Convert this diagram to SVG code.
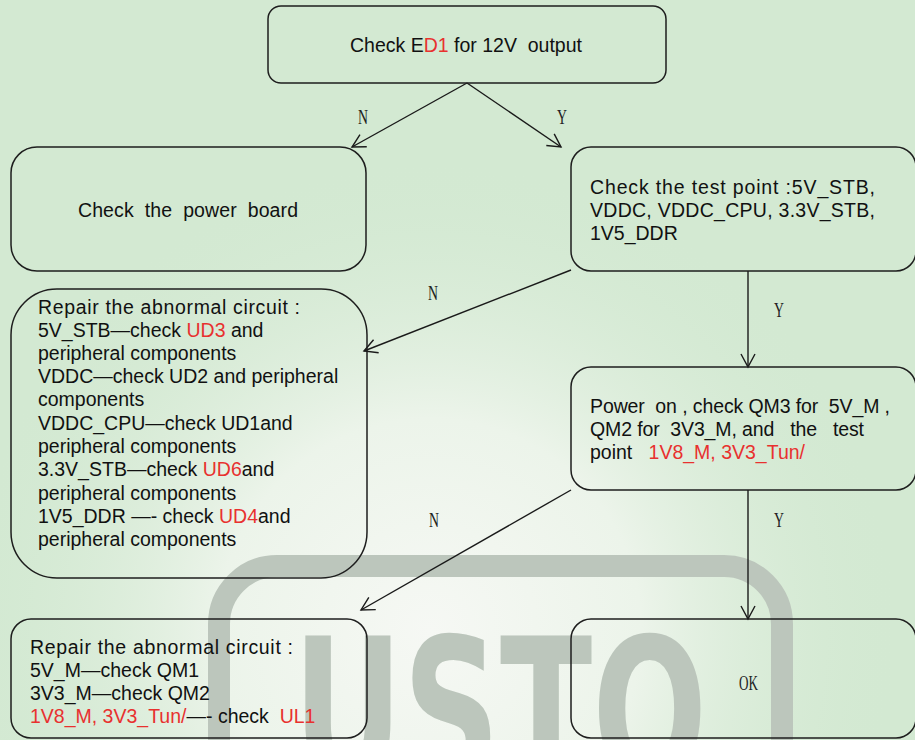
<svg xmlns="http://www.w3.org/2000/svg" width="915" height="740" viewBox="0 0 915 740">
<defs>
<radialGradient id="bgspot" cx="430" cy="630" r="470" gradientUnits="userSpaceOnUse">
<stop offset="0" stop-color="#f6f8f4"/>
<stop offset="0.45" stop-color="#ecf4ea"/>
<stop offset="1" stop-color="#d3e9d2" stop-opacity="0"/>
</radialGradient>
<marker id="arr" markerWidth="16" markerHeight="16" refX="14" refY="8" orient="auto" markerUnits="userSpaceOnUse">
<path d="M1,1 L14,8 L1,15" fill="none" stroke="#1a1a1a" stroke-width="1.4"/>
</marker>
<style>
.box{fill:none;stroke:#1e1e1e;stroke-width:1.5}
.t{font-family:"Liberation Sans",Arial,sans-serif;font-size:19.5px;fill:#111;white-space:pre}
.r{fill:#e8312f}
.lbl{font-family:"Liberation Serif","Times New Roman",serif;font-size:20px;fill:#222}
.con{stroke:#1a1a1a;stroke-width:1.4;fill:none}
.wm{fill:none;stroke:#bcc6bc;stroke-width:22}
</style>
</defs>
<rect width="915" height="740" fill="#d3e9d2"/>
<rect width="915" height="740" fill="url(#bgspot)"/>
<g id="watermark">
<rect class="wm" x="219" y="566" width="563" height="320" rx="58"/>
<text x="293" y="781" font-family="'DejaVu Sans Condensed','DejaVu Sans',sans-serif" font-weight="bold" font-size="200" fill="#bcc6bc" textLength="414" lengthAdjust="spacingAndGlyphs">USTO</text>
</g>
<g id="connectors">
<line class="con" x1="467" y1="83" x2="352" y2="147" marker-end="url(#arr)"/>
<line class="con" x1="467" y1="83" x2="561" y2="147" marker-end="url(#arr)"/>
<line class="con" x1="571" y1="270" x2="364" y2="351" marker-end="url(#arr)"/>
<line class="con" x1="748" y1="271" x2="748" y2="367" marker-end="url(#arr)"/>
<line class="con" x1="571" y1="490" x2="361" y2="610" marker-end="url(#arr)"/>
<line class="con" x1="748" y1="490" x2="748" y2="619" marker-end="url(#arr)"/>
<text class="lbl" x="358" y="124" textLength="10" lengthAdjust="spacingAndGlyphs">N</text>
<text class="lbl" x="557" y="124" textLength="10" lengthAdjust="spacingAndGlyphs">Y</text>
<text class="lbl" x="428" y="300" textLength="10" lengthAdjust="spacingAndGlyphs">N</text>
<text class="lbl" x="774" y="317" textLength="10" lengthAdjust="spacingAndGlyphs">Y</text>
<text class="lbl" x="429" y="527" textLength="10" lengthAdjust="spacingAndGlyphs">N</text>
<text class="lbl" x="774" y="527" textLength="10" lengthAdjust="spacingAndGlyphs">Y</text>
</g>
<g id="n1">
<rect class="box" x="268" y="6" width="398" height="77" rx="13"/>
<text class="t" x="350" y="52">Check E<tspan class="r">D1</tspan> for 12V  output</text>
</g>
<g id="n2">
<rect class="box" x="11" y="147" width="355" height="124" rx="26"/>
<text class="t" x="78" y="217" textLength="220" lengthAdjust="spacing">Check  the  power  board</text>
</g>
<g id="n3">
<rect class="box" x="571" y="147" width="345" height="124" rx="20"/>
<text class="t" x="590" y="194" textLength="285" lengthAdjust="spacing">Check the test point :5V_STB,</text>
<text class="t" x="590" y="217" textLength="285" lengthAdjust="spacing">VDDC, VDDC_CPU, 3.3V_STB,</text>
<text class="t" x="590" y="240">1V5_DDR</text>
</g>
<g id="n4">
<rect class="box" x="11" y="289" width="356" height="289" rx="46"/>
<text class="t" x="38" y="314" textLength="262" lengthAdjust="spacing">Repair the abnormal circuit :</text>
<text class="t" x="38" y="337">5V_STB—check <tspan class="r">UD3</tspan> and</text>
<text class="t" x="38" y="360">peripheral components</text>
<text class="t" x="38" y="383">VDDC—check UD2 and peripheral</text>
<text class="t" x="38" y="406">components</text>
<text class="t" x="38" y="430">VDDC_CPU—check UD1and</text>
<text class="t" x="38" y="453">peripheral components</text>
<text class="t" x="38" y="476">3.3V_STB—check <tspan class="r">UD6</tspan>and</text>
<text class="t" x="38" y="500">peripheral components</text>
<text class="t" x="38" y="523">1V5_DDR —- check <tspan class="r">UD4</tspan>and</text>
<text class="t" x="38" y="546">peripheral components</text>
</g>
<g id="n5">
<rect class="box" x="571" y="367" width="345" height="123" rx="20"/>
<text class="t" x="590" y="413" textLength="300" lengthAdjust="spacing">Power  on , check QM3 for  5V_M ,</text>
<text class="t" x="590" y="436" textLength="274" lengthAdjust="spacing">QM2 for  3V3_M, and   the   test</text>
<text class="t" x="590" y="459">point   <tspan class="r">1V8_M, 3V3_Tun/</tspan></text>
</g>
<g id="n6">
<rect class="box" x="11" y="619" width="356" height="119" rx="20"/>
<text class="t" x="30" y="654" textLength="263" lengthAdjust="spacing">Repair the abnormal circuit :</text>
<text class="t" x="30" y="677">5V_M—check QM1</text>
<text class="t" x="30" y="700">3V3_M—check QM2</text>
<text class="t" x="30" y="723"><tspan class="r">1V8_M, 3V3_Tun/</tspan>—- check  <tspan class="r">UL1</tspan></text>
</g>
<g id="n7">
<rect class="box" x="571" y="619" width="345" height="119" rx="20"/>
<text class="lbl" x="739" y="690" textLength="19" lengthAdjust="spacingAndGlyphs">OK</text>
</g>
</svg>
